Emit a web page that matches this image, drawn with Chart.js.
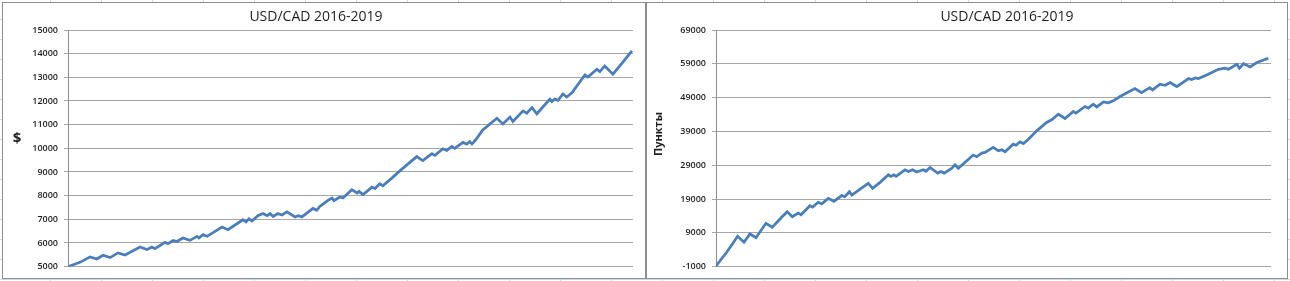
<!DOCTYPE html>
<html>
<head>
<meta charset="utf-8">
<script src="https://cdn.jsdelivr.net/npm/chart.js@4.4.1/dist/chart.umd.min.js"></script>
<style>
    html, body { margin: 0; padding: 0; }
    body {
        width: 1290px; height: 281px; overflow: hidden; position: relative;
        background-color: #fff;
        background-image:
            repeating-linear-gradient(90deg, transparent 0 50px, #d0d7e5 50px 51px),
            repeating-linear-gradient(180deg, transparent 0 19px, #d0d7e5 19px 20px);
    }
    .box {
        position: absolute; top: 2px; height: 277px; box-sizing: border-box;
        background: #fff; border: 1px solid #8e8e8e;
    }
    #boxLeft { left: 2px; width: 644px; }
    #boxRight { left: 646px; width: 642px; }
    canvas { display: block; }
</style>
</head>
<body>
<div class="box" id="boxLeft"><canvas id="chartDollars" width="642" height="275"></canvas></div>
<div class="box" id="boxRight"><canvas id="chartPoints" width="640" height="275"></canvas></div>

<script>
    // week index 0..208 (2016-2019) and balance in $
    const dollarWeeks = [0, 4.4, 8.1, 10.6, 12.9, 15.5, 18.4, 21.0, 26.5, 29.1, 30.9, 32.0, 35.7, 36.8, 38.7, 40.1,
        42.3, 44.9, 47.5, 48.2, 49.7, 51.2, 56.7, 58.9, 64.4, 65.5, 66.6, 67.7, 69.9, 71.8, 73.3, 74.4, 75.5, 77.3,
        78.8, 80.6, 83.6, 84.7, 86.1, 90.2, 91.6, 92.7, 95.7, 97.2, 97.9, 100.1, 101.2, 104.5, 106.4, 107.1, 108.6,
        111.9, 113.0, 114.8, 115.9, 119.2, 122.9, 128.4, 130.6, 134.0, 135.1, 138.0, 139.5, 141.3, 142.4, 145.4,
        146.8, 147.9, 148.7, 150.1, 152.7, 157.9, 160.1, 162.7, 163.8, 167.5, 168.9, 170.8, 172.6, 177.4, 178.1,
        179.2, 180.4, 182.2, 183.6, 185.5, 190.3, 191.4, 194.7, 195.8, 197.6, 200.6, 203.9, 207.6];
    const dollarValues = [5000, 5180, 5410, 5320, 5480, 5380, 5580, 5490, 5830, 5720, 5830, 5760, 6030, 5970, 6100, 6060,
        6210, 6110, 6280, 6210, 6350, 6280, 6670, 6560, 6980, 6890, 7020, 6930, 7150, 7240, 7150, 7240, 7120, 7240,
        7180, 7310, 7100, 7150, 7100, 7460, 7380, 7540, 7800, 7900, 7790, 7940, 7900, 8250, 8110, 8180, 8040,
        8360, 8300, 8500, 8420, 8740, 9120, 9650, 9480, 9770, 9700, 9980, 9910, 10080, 10000, 10250,
        10180, 10280, 10180, 10360, 10780, 11270, 11030, 11320, 11130, 11580, 11480, 11720, 11460, 12080, 11980,
        12080, 12030, 12300, 12170, 12350, 13100, 13010, 13340, 13240, 13480, 13130, 13590, 14120];

    // week index 0..208 and result in points
    const pointWeeks = [0, 4.0, 5.9, 8.1, 10.5, 12.7, 15.0, 18.7, 21.1, 24.6, 26.7, 28.6, 30.8, 31.9, 35.2, 36.2,
        38.3, 39.6, 42.1, 44.2, 47.1, 48.3, 50.0, 50.9, 54.0, 57.1, 58.7, 61.5, 64.6, 65.5, 66.7, 67.5, 70.8, 72.1,
        73.7, 75.2, 77.7, 78.7, 80.2, 83.1, 84.3, 85.5, 88.3, 89.6, 90.8, 94.0, 96.4, 97.7, 99.6, 100.8, 103.9,
        105.8, 107.1, 108.3, 111.4, 112.4, 113.9, 115.2, 117.1, 120.2, 123.9, 125.8, 128.3, 130.8, 133.9, 134.9,
        138.3, 139.5, 141.4, 142.7, 145.2, 147.0, 148.9, 151.4, 157.0, 159.5, 162.6, 163.6, 166.4, 168.3, 170.2,
        172.7, 177.1, 178.3, 179.6, 180.8, 183.9, 188.3, 190.8, 192.1, 195.2, 196.2, 197.7, 200.2, 202.7, 207.0];
    const pointValues = [-800, 3250, 5400, 7980, 6200, 8660, 7560, 11800, 10630, 13580, 15240, 13770, 14860, 14360, 17010, 16600,
        18020, 17570, 19200, 18310, 20000, 19700, 21150, 20170, 21940, 23620, 22150, 23920, 26170, 25670, 26170, 25720, 27640, 27140,
        27640, 27000, 27640, 27200, 28340, 26670, 27140, 26670, 28060, 29120, 28060, 30300, 32000, 31500, 32600, 32800, 34260,
        33250, 33570, 33000, 35230, 34900, 35900, 35400, 36700, 39160, 41640, 42420, 44100, 42820, 44880, 44400,
        46370, 45880, 47050, 46250, 47740, 47440, 48040, 49310, 51670, 50490, 51960, 51270, 52960, 52660, 53450,
        52270, 54630, 54340, 54830, 54630, 55700, 57380, 57680, 57380, 58860, 57680, 59050, 58060, 59360, 60630];

    const dollarTicks = [5000, 6000, 7000, 8000, 9000, 10000, 11000, 12000, 13000, 14000, 15000];
    const pointTicks = [-1000, 9000, 19000, 29000, 39000, 49000, 59000, 69000];

    const chartTitle = "USD/CAD 2016-2019";
    const dollarAxisLabel = "$";
    const pointAxisLabel = "Пункты";

    const LINE_COLOR = "#4a7ebb";
    const GRID_COLOR = "#a6a6a6";
    const TEXT_COLOR = "#1f1f1f";

    /* ---------------- text plugin (title + axis caption, Excel style) ---------------- */
    const sheetText = {
        id: "sheetText",
        afterDraw(chart, args, opts) {
            const ctx = chart.ctx;
            ctx.save();
            ctx.fillStyle = TEXT_COLOR;
            ctx.textAlign = "center";
            ctx.textBaseline = "middle";
            ctx.font = "14px 'Open Sans', sans-serif";
            ctx.fillText(opts.title, opts.titleX, opts.titleY);

            ctx.font = "bold " + opts.labelSize + "px 'Open Sans', sans-serif";
            ctx.translate(opts.labelX, opts.labelY);
            if (opts.rotate) ctx.rotate(-Math.PI / 2);
            ctx.fillText(opts.label, 0, 0);
            ctx.restore();
        }
    };

    function makeChart(canvasId, weeks, values, ticks, axisWidth, padRight, padBottom, textOpts) {
        const points = weeks.map((w, i) => ({ x: w, y: values[i] }));
        return new Chart(document.getElementById(canvasId), {
            type: "line",
            data: {
                datasets: [{
                    data: points,
                    borderColor: LINE_COLOR,
                    borderWidth: 2.75,
                    pointRadius: 0,
                    tension: 0,
                    fill: false
                }]
            },
            options: {
                responsive: false,
                animation: false,
                devicePixelRatio: 1,
                layout: { padding: { top: 27, right: padRight, bottom: padBottom, left: 0 } },
                plugins: {
                    legend: { display: false },
                    tooltip: { enabled: false },
                    sheetText: textOpts
                },
                scales: {
                    x: { type: "linear", min: 0, max: 208, display: false },
                    y: {
                        type: "linear",
                        min: ticks[0],
                        max: ticks[ticks.length - 1],
                        afterBuildTicks: (scale) => { scale.ticks = ticks.map(v => ({ value: v })); },
                        afterFit: (scale) => { scale.width = axisWidth; },
                        grid: { color: GRID_COLOR, lineWidth: 1, tickLength: 4, tickColor: GRID_COLOR },
                        border: { display: true, color: "#8c8c8c", width: 1 },
                        ticks: {
                            color: TEXT_COLOR,
                            padding: 6,
                            font: { family: "'Open Sans', sans-serif", size: 9, weight: "600" },
                            callback: (v) => String(v)
                        }
                    }
                }
            },
            plugins: [sheetText]
        });
    }

    makeChart("chartDollars", dollarWeeks, dollarValues, dollarTicks, 65, 12, 11, {
        title: chartTitle, titleX: 313, titleY: 14,
        label: dollarAxisLabel, labelX: 14, labelY: 136, labelSize: 15, rotate: false
    });

    makeChart("chartPoints", pointWeeks, pointValues, pointTicks, 69, 16, 10, {
        title: chartTitle, titleX: 360, titleY: 14,
        label: pointAxisLabel, labelX: 12, labelY: 131, labelSize: 11, rotate: true
    });
</script>
</body>
</html>
